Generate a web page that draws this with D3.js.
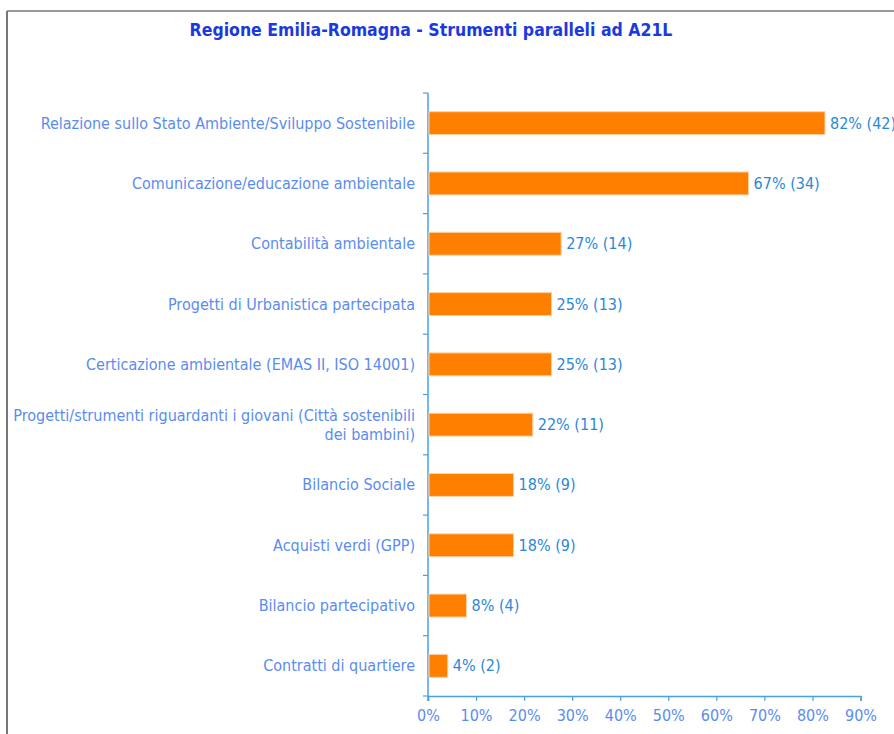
<!DOCTYPE html>
<html>
<head>
<meta charset="utf-8">
<style>
  body { margin: 0; background: #fff; }
  svg { display: block; }
  text { font-family: "DejaVu Sans Condensed", "DejaVu Sans", sans-serif; }
</style>
</head>
<body>
<div id="chart"></div>
<script src="https://d3js.org/d3.v7.min.js"></script>
<script>
const chartTitle = "Regione Emilia-Romagna - Strumenti paralleli ad A21L";
const categories = [
  ["Relazione sullo Stato Ambiente/Sviluppo Sostenibile"],
  ["Comunicazione/educazione ambientale "],
  ["Contabilità ambientale"],
  ["Progetti di Urbanistica partecipata "],
  ["Certicazione ambientale (EMAS II, ISO 14001)"],
  ["Progetti/strumenti riguardanti i giovani (Città sostenibili", "dei bambini)"],
  ["Bilancio Sociale"],
  ["Acquisti verdi (GPP)"],
  ["Bilancio partecipativo"],
  ["Contratti di quartiere"]
];
const shares = [82.4, 66.5, 27.5, 25.5, 25.5, 21.6, 17.6, 17.6, 7.8, 3.9];
const valueLabels = ["82% (42)", "67% (34)", "27% (14)", "25% (13)", "25% (13)",
  "22% (11)", "18% (9)", "18% (9)", "8% (4)", "4% (2)"];
const xTicks = [0, 10, 20, 30, 40, 50, 60, 70, 80, 90];

const width = 894, height = 734;
const plot = { left: 428, right: 860.5, top: 93, bottom: 696 };

const svg = d3.select("#chart").append("svg")
  .attr("width", width)
  .attr("height", height);

// frame of the original picture
svg.append("line").attr("x1", 7).attr("x2", width).attr("y1", 11).attr("y2", 11)
  .attr("stroke", "#777").attr("stroke-width", 1.5);
svg.append("line").attr("x1", 7).attr("x2", 7).attr("y1", 11).attr("y2", height)
  .attr("stroke", "#777").attr("stroke-width", 2);

svg.append("text")
  .attr("x", 431).attr("y", 36)
  .attr("text-anchor", "middle")
  .attr("fill", "#1a3ae0")
  .attr("font-size", 17.5)
  .attr("font-weight", "bold")
  .text(chartTitle);

const x = d3.scaleLinear().domain([0, 90]).range([plot.left, plot.right]);
const y = d3.scaleBand().domain(d3.range(categories.length))
  .range([plot.top, plot.bottom]).paddingInner(0.62).paddingOuter(0.31);

const axisColor = "#4aa0e0";
const fs = 16;

// y axis: line with ticks at category boundaries
const yAxis = svg.append("g");
yAxis.append("line").attr("x1", plot.left).attr("x2", plot.left)
  .attr("y1", plot.top).attr("y2", plot.bottom + 5)
  .attr("stroke", axisColor).attr("stroke-width", 1.5);
const step = (plot.bottom - plot.top) / categories.length;
yAxis.selectAll("line.tick")
  .data(d3.range(categories.length + 1))
  .join("line")
  .attr("class", "tick")
  .attr("x1", plot.left - 5).attr("x2", plot.left)
  .attr("y1", d => plot.top + d * step).attr("y2", d => plot.top + d * step)
  .attr("stroke", axisColor).attr("stroke-width", 1.2);

// x axis
const xAxis = svg.append("g")
  .attr("transform", `translate(0,${plot.bottom})`)
  .call(d3.axisBottom(x).tickValues(xTicks).tickFormat(d => d + "%").tickSize(5).tickPadding(9));
xAxis.select(".domain").attr("stroke", axisColor).attr("stroke-width", 1.5);
xAxis.selectAll(".tick line").attr("stroke", axisColor).attr("stroke-width", 1.2);
xAxis.selectAll(".tick text")
  .attr("fill", "#5a8cf0")
  .attr("font-size", fs)
  .attr("font-family", "DejaVu Sans Condensed, DejaVu Sans, sans-serif");

// bars
svg.append("g").selectAll("rect")
  .data(shares)
  .join("rect")
  .attr("x", x(0) + 1)
  .attr("y", (d, i) => y(i))
  .attr("width", d => x(d) - x(0))
  .attr("height", y.bandwidth())
  .attr("fill", "#ff7f00")
  .attr("stroke", "#ffd2a6")
  .attr("stroke-width", 1);

// value labels
svg.append("g").selectAll("text")
  .data(shares)
  .join("text")
  .attr("x", d => x(d) + 6)
  .attr("y", (d, i) => y(i) + y.bandwidth() / 2 + 5.5)
  .attr("fill", "#2a88d8")
  .attr("font-size", fs)
  .text((d, i) => valueLabels[i]);

// category labels
const cat = svg.append("g").selectAll("text")
  .data(categories)
  .join("text")
  .attr("text-anchor", "end")
  .attr("fill", "#5a8cf0")
  .attr("font-size", fs)
  .attr("y", (d, i) => y(i) + y.bandwidth() / 2 + 5.5 - (d.length - 1) * 9.5);
cat.selectAll("tspan")
  .data(d => d)
  .join("tspan")
  .attr("x", 415)
  .attr("dy", (d, j) => j === 0 ? 0 : 19)
  .text(d => d);
</script>
</body>
</html>
